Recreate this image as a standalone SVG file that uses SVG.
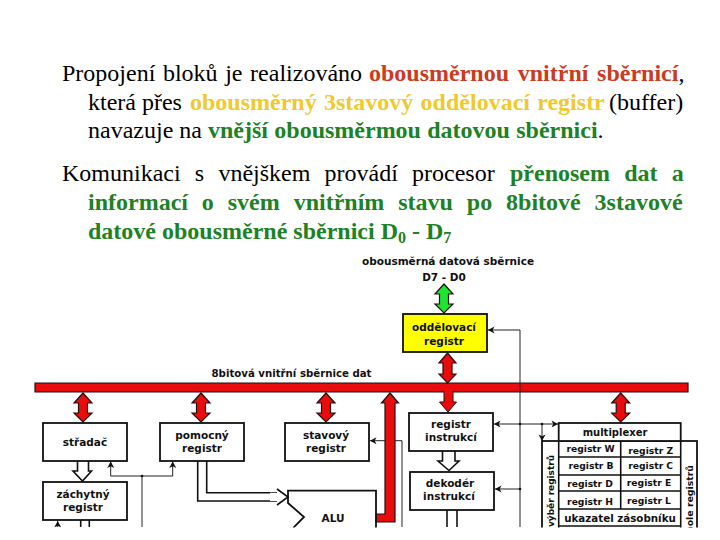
<svg xmlns="http://www.w3.org/2000/svg" width="720" height="540" viewBox="0 0 720 540">
<style>
.p{font-family:"Liberation Serif","Times New Roman",serif;font-size:24px;fill:#000}
.r{fill:#cc3a22;font-weight:bold}
.y{fill:#f0c92e;font-weight:bold}
.g{fill:#1c8224;font-weight:bold}
.l{font-family:"DejaVu Sans","Lato",sans-serif;font-weight:bold;font-size:10.5px;fill:#111;text-anchor:middle}
.s{font-size:9.2px}
.b{fill:#fff;stroke:#111;stroke-width:1.8}
.red{fill:#e80c0c;stroke:#201010;stroke-width:1.2}
.thin{fill:none;stroke:#222;stroke-width:1}
.dbl{fill:none;stroke:#111;stroke-width:1.6}
.hollow{fill:#fff;stroke:#111;stroke-width:1.6}
</style>
<defs>
<marker id="a" viewBox="0 0 8 8" refX="7.5" refY="4" markerWidth="8" markerHeight="8" orient="auto-start-reverse" markerUnits="userSpaceOnUse"><path d="M1 .5L7.5 4L1 7.5L2.8 4Z" fill="#111"/></marker>
<clipPath id="c"><rect x="0" y="250" width="720" height="277.5"/></clipPath>
</defs>
<rect width="720" height="540" fill="#fff"/>
<g id="text">
<text class="p" y="81"><tspan x="62" word-spacing="1.600">Propojení bloků je realizováno</tspan><tspan x="369" class="r" word-spacing="2.700">obousměrnou vnitřní sběrnicí</tspan><tspan>,</tspan></text>
<text class="p" y="110"><tspan x="88">která přes</tspan><tspan x="190" class="y" word-spacing="1.300">obousměrný 3stavový oddělovací registr</tspan><tspan x="609">(buffer)</tspan></text>
<text class="p" y="138"><tspan x="88">navazuje na</tspan><tspan x="208" class="g" word-spacing=".3">vnější obousměrmou datovou sběrnici</tspan><tspan>.</tspan></text>
<text class="p" y="181"><tspan x="62" word-spacing="8.200">Komunikaci s vnějškem provádí procesor</tspan><tspan x="510" class="g" word-spacing="8.200">přenosem dat a</tspan></text>
<text class="p" y="210"><tspan x="88" class="g" word-spacing="7.900">informací o svém vnitřním stavu po 8bitové 3stavové</tspan></text>
<text class="p" y="239"><tspan x="88" class="g">datové obousměrné sběrnici D</tspan><tspan class="g" font-size="16" dy="4">0</tspan><tspan class="g" dy="-4"> - D</tspan><tspan class="g" font-size="16" dy="4">7</tspan></text>
</g>
<g clip-path="url(#c)">
<g id="connectors">
<path class="red" d="M35 383H688V392H35Z"/>
<path class="thin" marker-end="url(#a)" d="M520 527V330H488"/>
<path class="thin" marker-start="url(#a)" marker-end="url(#a)" d="M494 424H558"/>
<path class="thin" marker-end="url(#a)" d="M542 424V441"/>
<path class="thin" marker-end="url(#a)" d="M520 489H495"/>
<path class="thin" marker-end="url(#a)" d="M142 527V476H110.700V461.500"/>
<path class="thin" marker-end="url(#a)" d="M142 476H172.700V461.500"/>
<path class="thin" marker-end="url(#a)" d="M402 527V440.700H370"/>
<circle cx="520" cy="424" r="1.300" fill="#111"/><circle cx="542" cy="424" r="1.300" fill="#111"/><circle cx="520" cy="489" r="1.300" fill="#111"/><circle cx="142" cy="476" r="1.300" fill="#111"/>
<path class="thin" marker-end="url(#a)" d="M57.700 527V521"/>
<path class="red" d="M444 284L453 294H448.500V304H453L444 313L435 304H439.500V294H435Z" style="fill:#1ee62e"/>
<path class="red" d="M447.500 353L456 363H452V374H456L447.500 383L439 374H443V363H439Z"/>
<path class="red" d="M83 393L92 403H87.500V413H92L83 422L74 413H78.500V403H74Z"/>
<path class="red" d="M201 393L210 403H205.500V413H210L201 422L192 413H196.500V403H192Z"/>
<path class="red" d="M326 393L335 403H330.500V413H335L326 422L317 413H321.500V403H317Z"/>
<path class="red" d="M620.700 393L629.700 403H625.200V413H629.700L620.700 422L611.700 413H616.200V403H611.700Z"/>
<path class="red" d="M444 391.500V402H439.500L448 412L456.500 402H453V391.500" style="stroke-width:1"/>
<path d="M444.500 391H452.500V394H444.500Z" fill="#e80c0c"/>
<path class="red" d="M390 393L398.500 403H395V522H376V514H385V403H381.500Z"/>
<path class="hollow" d="M77.500 461V471H73L82.500 481L91.500 471H88.500V461"/>
<path class="hollow" d="M442.500 451V461H438L449 470.500L459 461H455V451"/>
<path class="dbl" d="M197.700 461V501H277M206.700 461V492.700H277"/>
<path class="hollow" d="M277 489L288 497L277 505V501H270V492.700H277Z" style="stroke:none"/>
<path class="dbl" d="M277 489L288 497L277 505"/>
<path class="dbl" d="M80.700 520V527M89.300 520V527M447 510V527M457 510V527"/>
</g>
<g id="bus-label"><text class="l" x="291.500" y="377" style="font-size:10.200px">8bitová vnitřní sběrnice dat</text></g>
<g id="ext-bus-label"><text class="l" x="448" y="265">obousměrná datová sběrnice</text><text class="l" x="444" y="281">D7 - D0</text></g>
<g id="buffer"><rect x="403" y="314" width="84" height="38" style="fill:#ffff00;stroke:#111;stroke-width:1.800"/><text class="l" x="444" y="331">oddělovací</text><text class="l" x="444" y="345">registr</text></g>
<g id="stradac"><rect class="b" x="43" y="423" width="84" height="38"/><text class="l" x="85" y="446">střadač</text></g>
<g id="pomocny"><rect class="b" x="160" y="423" width="84" height="38"/><text class="l" x="202" y="439">pomocný</text><text class="l" x="202" y="452">registr</text></g>
<g id="stavovy"><rect class="b" x="285" y="423" width="84" height="38"/><text class="l" x="326" y="439">stavový</text><text class="l" x="326" y="452">registr</text></g>
<g id="instr"><rect class="b" x="409" y="413" width="84" height="38"/><text class="l" x="451" y="428">registr</text><text class="l" x="451" y="441">instrukcí</text></g>
<g id="dekoder"><rect class="b" x="410" y="472" width="84" height="38"/><text class="l" x="450" y="487">dekodér</text><text class="l" x="449" y="500">instrukcí</text></g>
<g id="zachytny"><rect class="b" x="43" y="482" width="84" height="38"/><text class="l" x="83" y="498">záchytný</text><text class="l" x="83" y="511">registr</text></g>
<g id="alu"><path class="b" d="M288 490.600V503L304 517L294 527V540H376V490.600Z" style="fill:none"/><text class="l" x="333" y="522">ALU</text></g>
<g id="regs">
<rect class="b" x="542" y="441" width="155" height="95"/>
<rect class="b" x="558.700" y="423" width="122" height="18"/>
<path class="dbl" d="M558.700 441V540M680.700 441V540M620.700 441V509M558.700 457H680.700M558.700 475H680.700M558.700 491H680.700M558.700 509H680.700M558.700 526H680.700"/>
<text class="l" x="615" y="436" style="font-size:10px">multiplexer</text>
<text class="l s" x="590.500" y="452">registr W</text><text class="l s" x="650.700" y="454">registr Z</text>
<text class="l s" x="591" y="469">registr B</text><text class="l s" x="650.700" y="469">registr C</text>
<text class="l s" x="590" y="487">registr D</text><text class="l s" x="649" y="486">registr E</text>
<text class="l s" x="590" y="505">registr H</text><text class="l s" x="649" y="504">registr L</text>
<text class="l" x="620" y="522" style="font-size:10.300px">ukazatel zásobníku</text>
<text class="l s" transform="translate(554 491) rotate(-90)" textLength="72" lengthAdjust="spacingAndGlyphs">výběr registrů</text>
<text class="l s" transform="translate(693 499) rotate(-90)" textLength="68" lengthAdjust="spacingAndGlyphs">pole registrů</text>
</g>
</g>
</svg>
